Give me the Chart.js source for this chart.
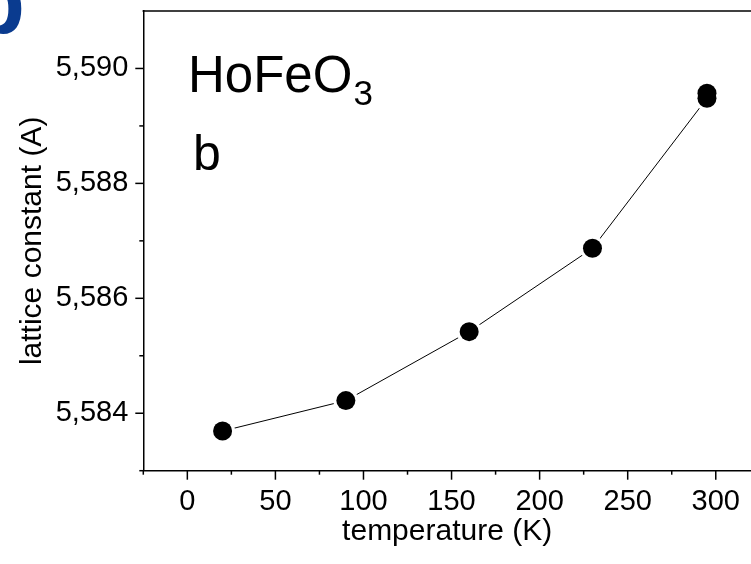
<!DOCTYPE html>
<html>
<head>
<meta charset="utf-8">
<script src="https://cdn.jsdelivr.net/npm/chart.js@4/dist/chart.umd.min.js"></script>
<style>
  html, body { margin: 0; padding: 0; background: #fff; }
  canvas { display: block; }
</style>
</head>
<body>
<canvas id="latticeChart" width="751" height="564"></canvas>
<script>
// Data
const temperatures = [20, 90, 160, 230, 295, 295];
const latticeB = [5.58369, 5.58422, 5.58542, 5.58687, 5.58948, 5.58957];

// Axis ticks
const xMajorTicks = [0, 50, 100, 150, 200, 250, 300];
const xMinorTicks = [-25, 25, 75, 125, 175, 225, 275];
const yMajorTicks = [5.584, 5.586, 5.588, 5.590];
const yMinorTicks = [5.583, 5.585, 5.587, 5.589];

const FONT = "'Liberation Sans', Arial, sans-serif";

const points = temperatures.map((t, i) => ({ x: t, y: latticeB[i] }));

// keep the plot area where the layout padding puts it
const noLabelPadding = s => {
  s.paddingTop = 0;
  s.paddingBottom = 0;
  s.paddingLeft = 0;
  s.paddingRight = 0;
};

// Draws tick marks (major + minor), the top frame line and the labels
const decorations = {
  id: "decorations",
  afterDraw(chart) {
    const { ctx, chartArea, scales } = chart;
    const x = scales.x, y = scales.y;
    ctx.save();
    ctx.strokeStyle = "#000";
    ctx.lineWidth = 1.5;

    // x ticks (outside, downward)
    const drawX = (v, len) => {
      const px = x.getPixelForValue(v);
      ctx.beginPath();
      ctx.moveTo(px, chartArea.bottom);
      ctx.lineTo(px, chartArea.bottom + len);
      ctx.stroke();
    };
    xMajorTicks.forEach(v => drawX(v, 9));
    xMinorTicks.forEach(v => drawX(v, 4));

    // y ticks (outside, leftward)
    const drawY = (v, len) => {
      const py = y.getPixelForValue(v);
      ctx.beginPath();
      ctx.moveTo(chartArea.left, py);
      ctx.lineTo(chartArea.left - len, py);
      ctx.stroke();
    };
    yMajorTicks.forEach(v => drawY(v, 8));
    yMinorTicks.forEach(v => drawY(v, 4));

    // top frame line
    ctx.beginPath();
    ctx.moveTo(chartArea.left - 0.75, chartArea.top);
    ctx.lineTo(chart.width, chartArea.top);
    ctx.stroke();

    // compound label
    ctx.fillStyle = "#000";
    ctx.textBaseline = "alphabetic";
    ctx.textAlign = "left";
    ctx.font = "51px " + FONT;
    ctx.fillText("HoFeO", 188, 92);
    const w = ctx.measureText("HoFeO").width;
    ctx.font = "35px " + FONT;
    ctx.fillText("3", 188 + w + 1, 105);
    ctx.font = "50px " + FONT;
    ctx.fillText("b", 193, 170);

    // panel letter, cropped at the corner
    ctx.fillStyle = "#0a3b8f";
    ctx.font = "bold 90px " + FONT;
    ctx.fillText("b", -30, 33);
    ctx.restore();
  }
};

new Chart(document.getElementById("latticeChart"), {
  type: "scatter",
  data: {
    datasets: [
      {
        label: "line",
        data: points,
        showLine: true,
        borderColor: "#000",
        borderWidth: 1,
        pointRadius: 0,
        order: 3
      },
      {
        label: "halo",
        data: points,
        pointRadius: 12.5,
        pointBackgroundColor: "#fff",
        pointBorderWidth: 0,
        order: 2
      },
      {
        label: "lattice constant b",
        data: points,
        pointRadius: 9.5,
        pointBackgroundColor: "#000",
        pointBorderWidth: 0,
        order: 1
      }
    ]
  },
  options: {
    responsive: false,
    animation: false,
    layout: { autoPadding: false, padding: { left: 0, top: 11, right: 0, bottom: 0 } },
    plugins: {
      legend: { display: false },
      tooltip: { enabled: false }
    },
    scales: {
      x: {
        type: "linear",
        min: -25,
        max: 320,
        afterBuildTicks: s => { s.ticks = xMajorTicks.map(v => ({ value: v })); },
        afterFit: s => { s.height = 93.3; noLabelPadding(s); },
        grid: { drawOnChartArea: false, drawTicks: false },
        border: { display: true, color: "#000", width: 1.5 },
        ticks: {
          color: "#000",
          font: { family: FONT, size: 29 },
          padding: 14,
          maxRotation: 0
        },
        title: {
          display: true,
          text: "temperature (K)",
          color: "#000",
          font: { family: FONT, size: 30 },
          padding: { top: 0, bottom: 14 }
        }
      },
      y: {
        type: "linear",
        min: 5.583,
        max: 5.591,
        afterBuildTicks: s => { s.ticks = yMajorTicks.map(v => ({ value: v })); },
        afterFit: s => { s.width = 143.3; noLabelPadding(s); },
        grid: { drawOnChartArea: false, drawTicks: false },
        border: { display: true, color: "#000", width: 1.5 },
        ticks: {
          color: "#000",
          font: { family: FONT, size: 29 },
          padding: 15,
          callback: v => v.toFixed(3).replace(".", ",")
        },
        title: {
          display: true,
          text: "lattice constant (A)",
          color: "#000",
          font: { family: FONT, size: 30 },
          padding: { top: 15, bottom: 0 }
        }
      }
    }
  },
  plugins: [decorations]
});
</script>
</body>
</html>
